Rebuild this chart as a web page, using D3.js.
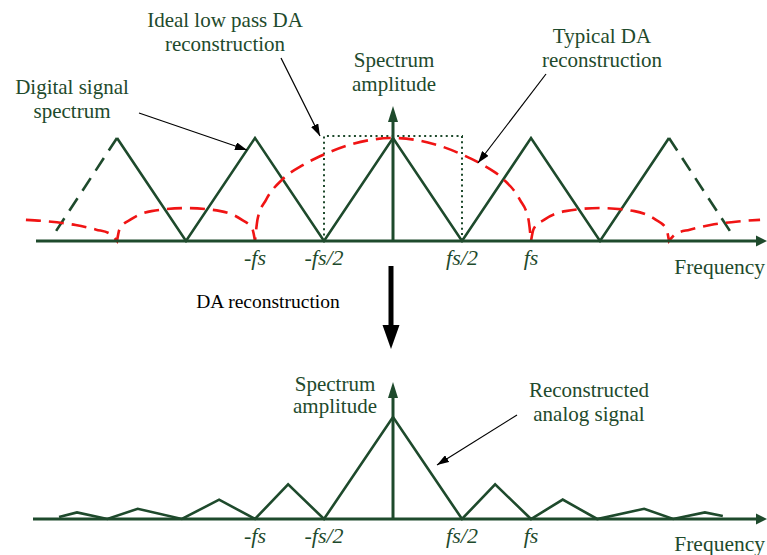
<!DOCTYPE html>
<html>
<head>
<meta charset="utf-8">
<script src="https://cdn.jsdelivr.net/npm/d3@7"></script>
<style>
  html, body { margin: 0; padding: 0; background: #fff; }
  svg { display: block; }
</style>
</head>
<body>
<svg id="chart" width="767" height="555" font-family="'Liberation Serif', 'DejaVu Serif', serif"></svg>
<script>
// ---------------- DATA (frequency in units of fs, amplitude normalised) ----------------
const tickValues = [-1, -0.5, 0.5, 1];
const tickLabels = ["-fs", "-fs/2", "fs/2", "fs"];

// Digital (sampled) signal spectrum: replicated triangles
const digitalSolid = [[-2, 1], [-1.5, 0], [-1, 1], [-0.5, 0], [0, 1], [0.5, 0], [1, 1], [1.5, 0], [2, 1]];
const digitalDashedLeft = [[-2.45, 0.08], [-2, 1]];
const digitalDashedRight = [[2, 1], [2.45, 0.08]];

// Ideal low-pass reconstruction window
const idealFilter = [[-0.5, 0], [-0.5, 1.02], [0.5, 1.02], [0.5, 0]];

// Typical DA reconstruction response (lobe by lobe)
const typicalLobes = [
  [[-2.66, 0.205], [-2.5, 0.19], [-2.3, 0.155], [-2.15, 0.11], [-2.05, 0.07], [-2.0, 0]],
  [[-2.0, 0], [-1.98, 0.12], [-1.9, 0.21], [-1.75, 0.29], [-1.5, 0.32], [-1.25, 0.29], [-1.1, 0.21], [-1.02, 0.12], [-1.0, 0]],
  [[-1.0, 0], [-0.98, 0.22], [-0.92, 0.4], [-0.8, 0.6], [-0.65, 0.74], [-0.5, 0.84], [-0.3, 0.94], [0, 1.0],
   [0.3, 0.94], [0.5, 0.84], [0.65, 0.74], [0.8, 0.6], [0.92, 0.4], [0.98, 0.22], [1.0, 0]],
  [[1.0, 0], [1.02, 0.12], [1.1, 0.21], [1.25, 0.29], [1.5, 0.32], [1.75, 0.29], [1.9, 0.21], [1.98, 0.12], [2.0, 0]],
  [[2.0, 0], [2.05, 0.07], [2.15, 0.11], [2.3, 0.155], [2.5, 0.19], [2.66, 0.205]]
];

// Reconstructed analog signal spectrum (bottom panel)
const reconstructed = [[-2.42, 0.02], [-2.29, 0.065], [-2.07, 0], [-1.85, 0.10], [-1.53, 0], [-1.26, 0.19],
  [-1.0, 0], [-0.76, 0.34], [-0.5, 0], [0, 1], [0.5, 0], [0.74, 0.34], [1.0, 0], [1.23, 0.19],
  [1.48, 0], [1.82, 0.10], [2.03, 0], [2.26, 0.065], [2.39, 0.03]];

// ---------------- DRAWING ----------------
const GREEN = "#1e4a2c";
const RED = "#f01414";
const FONT = "'Liberation Serif', 'DejaVu Serif', serif";
const FS = 21;
const svg = d3.select("#chart");

const x = d3.scaleLinear().domain([-1, 1]).range([255, 531]);
const yTop = d3.scaleLinear().domain([0, 1]).range([241, 138]);
const yBot = d3.scaleLinear().domain([0, 1]).range([519, 417]);

const defs = svg.append("defs");
defs.append("marker").attr("id", "blackHead").attr("viewBox", "0 0 12 8")
  .attr("refX", 12).attr("refY", 4).attr("markerWidth", 12).attr("markerHeight", 8)
  .attr("markerUnits", "userSpaceOnUse").attr("orient", "auto")
  .append("path").attr("d", "M0,0 L12,4 L0,8 Z").attr("fill", "#000");

function arrowHead(g, tipX, tipY, dir, len, half, color) {
  let pts;
  if (dir === "right") pts = [[tipX, tipY], [tipX - len, tipY - half], [tipX - len, tipY + half]];
  else if (dir === "up") pts = [[tipX, tipY], [tipX - half, tipY + len], [tipX + half, tipY + len]];
  else pts = [[tipX, tipY], [tipX - half, tipY - len], [tipX + half, tipY - len]];
  g.append("path").attr("d", "M" + pts.map(p => p.join(",")).join("L") + "Z").attr("fill", color);
}

function drawAxes(g, y, xStart, xEnd, yTipTop, labelY, freqY) {
  const base = y(0);
  g.append("line").attr("x1", xStart).attr("x2", xEnd - 8).attr("y1", base).attr("y2", base)
    .attr("stroke", GREEN).attr("stroke-width", 3);
  arrowHead(g, xEnd, base, "right", 11, 5.5, GREEN);
  g.append("line").attr("x1", x(0)).attr("x2", x(0)).attr("y1", base).attr("y2", yTipTop + 12)
    .attr("stroke", GREEN).attr("stroke-width", 3);
  arrowHead(g, x(0), yTipTop, "up", 16, 5, GREEN);
  g.selectAll("text.tick").data(tickValues).enter().append("text")
    .attr("class", "tick")
    .attr("x", d => x(d)).attr("y", labelY)
    .attr("text-anchor", "middle").attr("font-style", "italic").attr("font-size", 22)
    .attr("font-family", FONT)
    .attr("fill", GREEN).text((d, i) => tickLabels[i]);
  g.append("text").attr("x", 765).attr("y", freqY).attr("text-anchor", "end")
    .attr("font-family", FONT)
    .attr("font-size", 21.5).attr("fill", GREEN).text("Frequency");
}

// ---- top panel ----
const topG = svg.append("g");
const lineTop = d3.line().x(d => x(d[0])).y(d => yTop(d[1]));

topG.append("path").attr("d", lineTop(idealFilter)).attr("fill", "none")
  .attr("stroke", GREEN).attr("stroke-width", 2).attr("stroke-dasharray", "2,3.4");

topG.append("path").attr("d", lineTop(digitalSolid)).attr("fill", "none")
  .attr("stroke", GREEN).attr("stroke-width", 2.6).attr("stroke-linejoin", "miter");
[digitalDashedLeft, digitalDashedRight].forEach((seg, i) => {
  const pts = i === 0 ? seg.slice().reverse() : seg;
  topG.append("path").attr("d", lineTop(pts)).attr("fill", "none")
    .attr("stroke", GREEN).attr("stroke-width", 2.6).attr("stroke-dasharray", "15,9");
});

const lobeLine = d3.line().x(d => x(d[0])).y(d => yTop(d[1])).curve(d3.curveMonotoneX);
const typicalPath = typicalLobes.map((lobe, i) => {
  const p = lobeLine(lobe);
  return i === 0 ? p : p.replace(/^M/, "L");
}).join("");
topG.append("path").attr("d", typicalPath).attr("fill", "none")
  .attr("stroke", RED).attr("stroke-width", 2.6).attr("stroke-dasharray", "15,8");

drawAxes(topG, yTop, 36, 767, 106, 265, 274);

function label(lines, cx, cy, color, size, gap) {
  const t = svg.append("text").attr("fill", color).attr("font-size", size)
    .attr("font-family", FONT)
    .attr("text-anchor", "middle");
  lines.forEach((s, i) => {
    t.append("tspan").attr("x", cx).attr("y", cy + i * (gap || 24)).text(s);
  });
}
label(["Ideal low pass DA", "reconstruction"], 225, 27, GREEN, FS);
label(["Spectrum", "amplitude"], 394, 67, GREEN, FS);
label(["Typical DA", "reconstruction"], 602, 43, GREEN, FS);
label(["Digital signal", "spectrum"], 72, 94, GREEN, FS);

function pointer(x1, y1, x2, y2) {
  svg.append("line").attr("x1", x1).attr("y1", y1).attr("x2", x2).attr("y2", y2)
    .attr("stroke", "#000").attr("stroke-width", 1.2).attr("marker-end", "url(#blackHead)");
}
pointer(139, 113, 247, 150);
pointer(281, 58, 320, 136);
pointer(546, 74, 478, 163);

svg.append("line").attr("x1", 391).attr("x2", 391).attr("y1", 266).attr("y2", 328)
  .attr("stroke", "#000").attr("stroke-width", 5);
arrowHead(svg, 391, 349, "down", 24, 8.5, "#000");
svg.append("text").attr("x", 268).attr("y", 308).attr("text-anchor", "middle")
  .attr("font-family", FONT)
  .attr("font-size", 19.5).attr("fill", "#000").text("DA reconstruction");

// ---- bottom panel ----
const botG = svg.append("g");
const lineBot = d3.line().x(d => x(d[0])).y(d => yBot(d[1]));
botG.append("path").attr("d", lineBot(reconstructed)).attr("fill", "none")
  .attr("stroke", GREEN).attr("stroke-width", 2.6).attr("stroke-linejoin", "miter");
drawAxes(botG, yBot, 33, 767, 382, 543, 551);
label(["Spectrum", "amplitude"], 335, 391, GREEN, FS, 22);
label(["Reconstructed", "analog signal"], 589, 397, GREEN, FS);
pointer(517, 415, 437, 465);
</script>
</body>
</html>
